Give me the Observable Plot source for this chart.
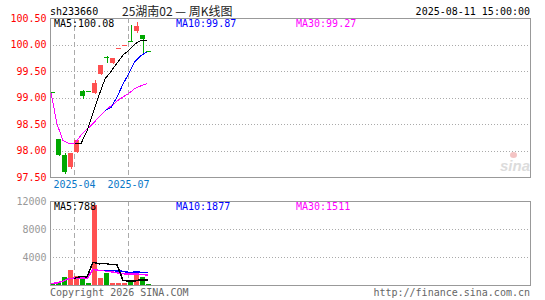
<!DOCTYPE html>
<html><head><meta charset="utf-8">
<script src="https://cdn.jsdelivr.net/npm/d3@7"></script>
<script src="https://cdn.jsdelivr.net/npm/@observablehq/plot@0.6"></script>
<style>
body{margin:0;background:#fff;}
#wrap{position:relative;width:545px;height:300px;overflow:hidden;font-family:"DejaVu Sans Mono",monospace;font-size:10px;}
.t{position:absolute;white-space:nowrap;line-height:10px;}
.p{position:absolute;left:0;}
</style></head><body><div id="wrap"></div>
<script>
// ---- data (weekly K line, 25湖南02) ----
const weekIndex = [0,1,2,3,4,5,6,7,8,9,10,11,12,13,14,15,16];
const openP  = [99.10, 98.22, 97.91, 97.68, 97.98, 99.13, 99.12, 99.09, 99.44, 99.76, 99.66, 99.93, 100.00, 100.07, 100.25, 100.18, 99.88];
const closeP = [99.10, 97.92, 97.59, 97.95, 98.20, 99.02, 99.12, 99.28, 99.61, 99.76, 99.74, 99.93, 100.00, 100.07, 100.35, 100.10, 99.88];
const highP  = [99.10, 98.22, 97.95, 97.95, 98.22, 99.15, 99.12, 99.33, 99.61, 99.78, 99.74, 99.93, 100.00, 100.36, 100.42, 100.18, 99.88];
const lowP   = [99.10, 97.90, 97.55, 97.66, 97.96, 98.98, 99.12, 99.07, 99.42, 99.65, 99.64, 99.93, 100.00, 100.07, 100.22, 99.80, 99.88];
const trend  = ["down","down","down","up","up","down","down","up","up","down","up","up","up","down","up","down","down"];
const ma5Price  = [null,null,null,null,98.15,98.14,98.38,98.71,99.05,99.36,99.50,99.66,99.81,99.90,100.02,100.09,100.08];
const ma10Price = [null,null,null,null,null,null,null,null,null,98.76,98.82,99.02,99.26,99.47,99.69,99.80,99.87];
const ma30Price = [99.10,98.51,98.20,98.14,98.15,98.30,98.41,98.52,98.64,98.76,98.85,98.94,99.02,99.09,99.18,99.23,99.27];
const volume    = [250,500,1100,2100,1350,1350,267,11500,1000,1750,300,280,320,420,1950,1100,150];
const ma5Vol    = [null,null,null,null,1060,1280,1233,3313,3093,3173,2963,2966,730,614,654,814,788];
const ma10Vol   = [null,null,null,null,null,null,null,null,null,2117,2122,2100,2022,1854,1914,1889,1877];
const ma30Vol   = [250,375,617,988,1060,1108,988,2302,2157,2117,1952,1812,1697,1606,1629,1596,1511];
const monthIdx    = [4, 13];
const monthLabels = ["2025-04", "2025-07"];
const priceTicks  = [97.5, 98.0, 98.5, 99.0, 99.5, 100.0, 100.5];
const priceGrid   = [98.0, 98.5, 99.0, 99.5, 100.0];
const volTicks    = [4000, 8000, 12000];
const volGrid     = [4000, 8000];
const slots = 80;

const UP = "#ff5050", DOWN = "#00a800";
const col = i => trend[i] === "up" ? UP : DOWN;
const FONT = "DejaVu Sans Mono";
const common = {width:545, marginLeft:50, marginRight:15, x:{domain:[0, slots], axis:null}, color:{type:"identity"},
  style:{background:"transparent", fontFamily:FONT, fontSize:"10px", overflow:"visible"}};
const bodyW = 5/6, mid = 5/12, maOff = 1/12;
const crisp = {shapeRendering:"crispEdges"};

const wrap = document.getElementById("wrap");

// ---- price panel ----
const dojis = weekIndex.filter(i => openP[i] === closeP[i]);
const bodies = weekIndex.filter(i => openP[i] !== closeP[i]);
const main = Plot.plot({
  ...common, height:195, marginTop:18, marginBottom:18,
  y:{domain:[97.5, 100.5], axis:null},
  marks:[
    Plot.ruleY(priceGrid, {y:d=>d, stroke:"#aaa", strokeDasharray:"1,2", ...crisp}),
    Plot.ruleX(monthIdx, {x:d=>d, stroke:"#aaa", strokeDasharray:"5,3", ...crisp}),
    Plot.ruleX(weekIndex, {x:i=>i+mid, y1:i=>lowP[i], y2:i=>highP[i], stroke:col, ...crisp}),
    Plot.rect(bodies, {x1:i=>i, x2:i=>i+bodyW, y1:i=>openP[i], y2:i=>closeP[i], fill:col, ...crisp}),
    Plot.ruleY(dojis, {y:i=>closeP[i], x1:i=>i, x2:i=>i+bodyW, stroke:col, ...crisp}),
    Plot.line(weekIndex, {x:i=>i+maOff, y:i=>ma30Price[i], stroke:"#ff00ff", strokeWidth:1, ...crisp}),
    Plot.line(weekIndex, {x:i=>i+maOff, y:i=>ma10Price[i], stroke:"#0000ff", strokeWidth:1, ...crisp}),
    Plot.line(weekIndex, {x:i=>i+maOff, y:i=>ma5Price[i], stroke:"#000", strokeWidth:1, ...crisp}),
    Plot.frame({stroke:"#999", ...crisp}),
    Plot.text(priceTicks, {y:d=>d, text:d=>d.toFixed(2), frameAnchor:"left", textAnchor:"end", dx:-4, fill:"#ff0000", fontSize:10}),
    Plot.text(monthIdx, {x:d=>d, text:(d,k)=>monthLabels[k], frameAnchor:"bottom", dy:10, fill:"#0a78c8", fontSize:10})
  ]
});
main.classList.add("p"); main.style.top = "0px";
wrap.appendChild(main);

// ---- volume panel ----
const vol = Plot.plot({
  ...common, height:105, marginTop:6, marginBottom:15,
  y:{domain:[0, 12000], axis:null},
  marks:[
    Plot.ruleY(volGrid, {y:d=>d, stroke:"#aaa", strokeDasharray:"1,2", ...crisp}),
    Plot.ruleX(monthIdx, {x:d=>d, stroke:"#aaa", strokeDasharray:"5,3", ...crisp}),
    Plot.rect(weekIndex, {x1:i=>i, x2:i=>i+bodyW, y1:0, y2:i=>volume[i], fill:col, ...crisp}),
    Plot.line(weekIndex, {x:i=>i+maOff, y:i=>ma30Vol[i], stroke:"#ff00ff", ...crisp}),
    Plot.line(weekIndex, {x:i=>i+maOff, y:i=>ma10Vol[i], stroke:"#0000ff", ...crisp}),
    Plot.line(weekIndex, {x:i=>i+maOff, y:i=>ma5Vol[i], stroke:"#000", ...crisp}),
    Plot.frame({stroke:"#999", ...crisp}),
    Plot.text(volTicks, {y:d=>d, text:d=>String(d), frameAnchor:"left", textAnchor:"end", dx:-4, fill:"#999", fontSize:10})
  ]
});
vol.classList.add("p"); vol.style.top = "195px";
wrap.appendChild(vol);

// ---- texts ----
function label(txt, css){ const s=document.createElement("span"); s.className="t"; s.textContent=txt; Object.assign(s.style, css); wrap.appendChild(s); }
label("sh233660", {left:"50px", top:"7px", color:"#000"});
label("25湖南02 — 周K线图", {left:"122px", top:"4px", color:"#222", fontFamily:"'Noto Sans CJK SC',sans-serif", fontSize:"12px", lineHeight:"14px"});
label("2025-08-11 15:00:00", {right:"15px", top:"7px", color:"#000"});
label("MA5:" + ma5Price[16].toFixed(2), {left:"54px", top:"19px", color:"#000"});
label("MA10:" + ma10Price[16].toFixed(2), {left:"176px", top:"19px", color:"#0000ff"});
label("MA30:" + ma30Price[16].toFixed(2), {left:"296px", top:"19px", color:"#ff00ff"});
label("MA5:" + ma5Vol[16], {left:"54px", top:"202px", color:"#000"});
label("MA10:" + ma10Vol[16], {left:"176px", top:"202px", color:"#0000ff"});
label("MA30:" + ma30Vol[16], {left:"296px", top:"202px", color:"#ff00ff"});
label("Copyright 2026 SINA.COM", {left:"50px", top:"288px", color:"#666"});
label("http://finance.sina.com.cn", {right:"15px", top:"288px", color:"#666"});
label("sina", {left:"500px", top:"158px", color:"#dcdcdc", fontFamily:"'Liberation Sans',sans-serif", fontStyle:"italic", fontWeight:"bold", fontSize:"15px", lineHeight:"15px"});
const eye = document.createElement("span");
Object.assign(eye.style, {position:"absolute", left:"510px", top:"152px", width:"7px", height:"6px", borderRadius:"50%", background:"#f4c4c4"});
wrap.appendChild(eye);
</script>
</body></html>
